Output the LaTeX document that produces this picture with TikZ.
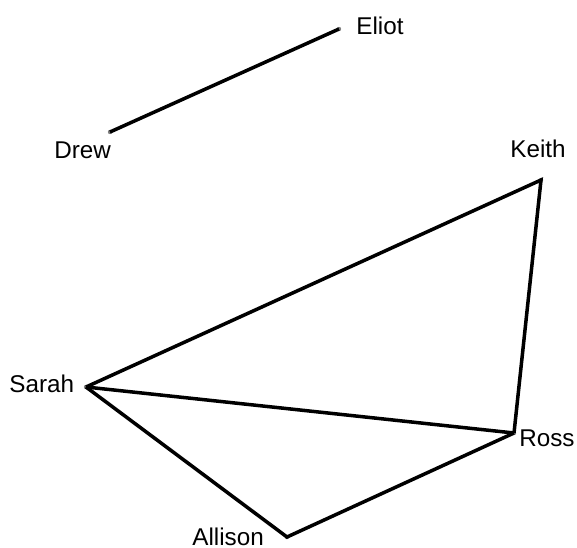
\documentclass[tikz,border=0pt]{standalone}
\usepackage{fontspec}
\setmainfont{Liberation Sans}
\usetikzlibrary{positioning}

\begin{document}
\begin{tikzpicture}[x=0.02cm,y=-0.02cm,
    edge/.style={line width=2pt},
    person/.style={anchor=base west,inner sep=0pt,font=\fontsize{13.8}{16}\selectfont},
    vertex/.style={circle,fill=gray,inner sep=0pt,minimum size=2.5pt}]
    \useasboundingbox (0,0) rectangle (577,547);

    % Punkte
    \node[vertex] (eliot) at (339,29) {};
    \node[vertex] (drew) at (110,132) {};
    \node[vertex] (keith) at (541,180) {};
    \node[vertex] (sarah) at (86,387) {};
    \node[vertex] (ross) at (514,433) {};
    \node[vertex] (allison) at (287,537) {};

    % Kanten
    \draw[edge] (drew.center) -- (eliot.center);
    \draw[edge] (sarah.center) -- (keith.center) -- (ross.center);
    \draw[edge] (sarah.center) -- (ross.center);
    \draw[edge] (sarah.center) -- (allison.center) -- (ross.center);

    % Namen
    \node[person] (eliotlabel) at (356,35) {Eliot};
    \node[person] (drewlabel) at (54,158) {Drew};
    \node[person] (keithlabel) at (510,157) {Keith};
    \node[person] (sarahlabel) at (9,392) {Sarah};
    \node[person] (rosslabel) at (519,446) {Ross};
    \node[person] (allisonlabel) at (192,545) {Allison};
\end{tikzpicture}
\end{document}
